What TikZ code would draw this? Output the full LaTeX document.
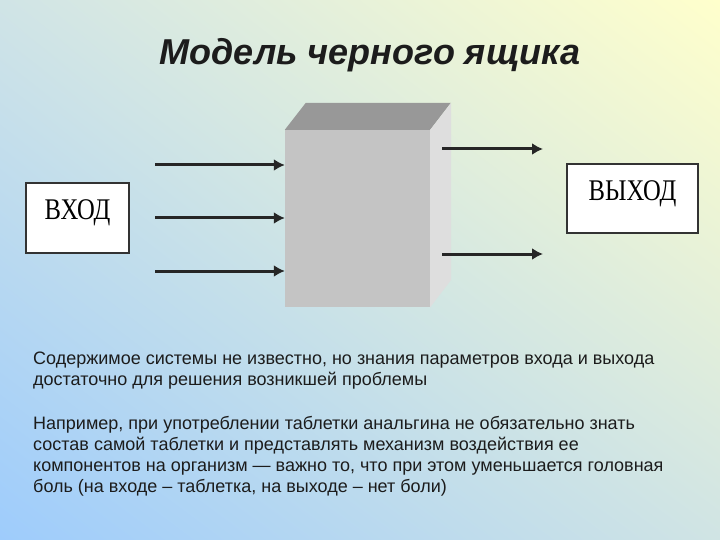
\documentclass[tikz,border=0pt]{standalone}
\usepackage{fontspec}
\setmainfont{Liberation Sans}
\newfontfamily\labelfont[FakeStretch=0.82]{Liberation Serif}
\usetikzlibrary{arrows.meta,positioning,calc,shadings}

\definecolor{bgtl}{RGB}{208,228,230}
\definecolor{bgtr}{RGB}{255,255,204}
\definecolor{bgbl}{RGB}{158,204,252}
\definecolor{bgbr}{RGB}{208,228,228}
\definecolor{cubefront}{RGB}{196,196,196}
\definecolor{cubetop}{RGB}{152,152,152}
\definecolor{cubeside}{RGB}{222,222,222}
\definecolor{txt}{RGB}{28,28,28}

\tikzset{
 labelbox/.style={draw=black!80,line width=1.5pt,fill=white,
   font=\labelfont\fontsize{30}{30}\selectfont,text height=17pt,text depth=13pt},
 flow/.style={-{Latex[length=11pt,width=12pt]},line width=3pt,black!85},
 para/.style={anchor=north west,align=left,inner sep=0pt,
   font=\fontsize{18}{21}\selectfont,text=txt}
}

\begin{document}
\begin{tikzpicture}[x=1pt,y=-1pt]
 \useasboundingbox (0,0) rectangle (720,540);
 \shade[upper left=bgtl,upper right=bgtr,lower left=bgbl,lower right=bgbr] (0,0) rectangle (720,540);

 \node[anchor=base,font=\bfseries\itshape\fontsize{36}{36}\selectfont,text=txt] (title) at (370,65) {Модель черного ящика};

 % the black box
 \node[minimum width=145,minimum height=177,inner sep=0pt,fill=cubefront] (box) at (357.5,218.5) {};
 \fill[cubetop] (box.north west) -- ++(21,-27) -- ++(145,0) -- (box.north east) -- cycle;
 \fill[cubeside] (box.north east) -- ++(21,-27) -- ++(0,177) -- (box.south east) -- cycle;

 \node[labelbox,minimum width=103,minimum height=70] (inp) at (77.5,218) {ВХОД};
 \node[labelbox,minimum width=131,minimum height=69] (outp) at (632.5,198.5) {ВЫХОД};

 % inputs
 \coordinate (in1) at (155,165);
 \coordinate (in2) at (155,218);
 \coordinate (in3) at (155,271);
 \draw[flow] (in1) -- (in1 -| box.west);
 \draw[flow] (in2) -- (in2 -| box.west);
 \draw[flow] (in3) -- (in3 -| box.west);

 % outputs
 \coordinate (out1) at (543,149);
 \coordinate (out2) at (543,254);
 \draw[flow] ($(out1 -| box.east)+(12,0)$) -- (out1);
 \draw[flow] ($(out2 -| box.east)+(12,0)$) -- (out2);

 \node[para] (txt1) at (33,352) {Содержимое системы не известно, но знания параметров входа и выхода\\достаточно для решения возникшей проблемы};
 \node[para] (txt2) at (33,416) {Например, при употреблении таблетки анальгина не обязательно знать\\состав самой таблетки и представлять механизм воздействия ее\\компонентов на организм~--- важно то, что при этом уменьшается головная\\боль (на входе~-- таблетка, на выходе~-- нет боли)};
\end{tikzpicture}
\end{document}
